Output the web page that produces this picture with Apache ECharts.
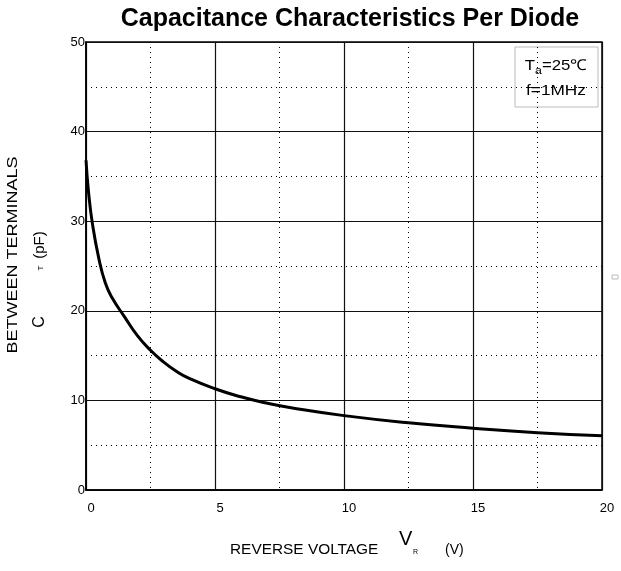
<!DOCTYPE html>
<html>
<head>
<meta charset="utf-8">
<script src="https://cdn.jsdelivr.net/npm/echarts@6/dist/echarts.min.js"></script>
<style>
html,body{margin:0;padding:0;background:#fff;}
#c{width:621px;height:571px;}
</style>
</head>
<body>
<div id="c"></div>
<script>
// Reverse voltage V_R (V)
var voltage = [0, 0.1, 0.25, 0.5, 0.75, 1.0, 1.5, 2.0, 2.5, 3.0, 3.5, 4.0, 5, 6, 7, 8, 10, 12.5, 15, 17.5, 20];
// Capacitance C_T (pF)
var capacitance = [36.8, 33.2, 29.7, 25.8, 23.1, 21.5, 19.3, 17.2, 15.6, 14.3, 13.25, 12.45, 11.3, 10.4, 9.7, 9.15, 8.3, 7.5, 6.9, 6.4, 6.05];
var xTicks = [0, 5, 10, 15, 20];
var yTicks = [0, 10, 20, 30, 40, 50];

var pts = voltage.map(function (v, i) { return [v, capacitance[i]]; });
var chart = echarts.init(document.getElementById('c'));
var font = '"Liberation Sans", Arial, sans-serif';
chart.setOption({
  animation: false,
  backgroundColor: '#fff',
  grid: { left: 86, top: 42, right: 19, bottom: 81, show: true, borderColor: '#000', borderWidth: 1.5 },
  xAxis: {
    type: 'value', min: xTicks[0], max: xTicks[xTicks.length - 1], interval: 5,
    axisLine: { show: true, lineStyle: { color: '#000', width: 1.5 } },
    axisTick: { show: false },
    axisLabel: { color: '#000', fontSize: 13, fontFamily: font, margin: 12, padding: [0, 0, 0, 10] },
    splitLine: { show: true, lineStyle: { color: '#111', width: 1.2 } },
    minorTick: { show: false, splitNumber: 2 },
    minorSplitLine: { show: true, lineStyle: { color: '#000', width: 1, type: [1, 4] } }
  },
  yAxis: {
    type: 'value', min: yTicks[0], max: yTicks[yTicks.length - 1], interval: 10,
    axisLine: { show: true, lineStyle: { color: '#000', width: 1.5 } },
    axisTick: { show: false },
    axisLabel: { color: '#000', fontSize: 13, fontFamily: font, margin: 1 },
    splitLine: { show: true, lineStyle: { color: '#111', width: 1.2 } },
    minorTick: { show: false, splitNumber: 2 },
    minorSplitLine: { show: true, lineStyle: { color: '#000', width: 1, type: [1, 4] } }
  },
  series: [{
    type: 'line', data: pts, smooth: 0.5, showSymbol: false,
    lineStyle: { color: '#000', width: 3 }
  }],
  graphic: [
    { type: 'text', x: 350, y: 7, style: { text: 'Capacitance Characteristics Per Diode', font: 'bold 25px ' + font, fill: '#000', textAlign: 'center' } },
    { type: 'rect', shape: { x: 515, y: 47, width: 83, height: 60 }, style: { fill: '#fff', stroke: '#bbb', lineWidth: 1 } },
    { type: 'text', x: 556, y: 56, scaleX: 1.12, style: { text: '{n|T}{s|a}{n|=25℃}', textAlign: 'center', rich: { n: { fontSize: 15, fontFamily: font, fill: '#000' }, s: { fontSize: 11, fontFamily: font, fill: '#000', padding: [9, 0, 0, 0] } } } },
    { type: 'text', x: 556, y: 83, scaleX: 1.15, style: { text: 'f=1MHz', textAlign: 'center', font: '15px ' + font, fill: '#000' } },
    { type: 'text', x: 13, y: 255, rotation: Math.PI / 2, scaleX: 1.2, style: { text: 'BETWEEN TERMINALS', font: '15px ' + font, fill: '#000', textAlign: 'center', textVerticalAlign: 'middle' } },
    { type: 'text', x: 40, y: 322, rotation: Math.PI / 2, style: { text: 'C', font: '16px ' + font, fill: '#000', textAlign: 'center', textVerticalAlign: 'middle' } },
    { type: 'text', x: 41, y: 268, rotation: Math.PI / 2, style: { text: 'T', font: '8px ' + font, fill: '#000', textAlign: 'center', textVerticalAlign: 'middle' } },
    { type: 'text', x: 40, y: 245, rotation: Math.PI / 2, style: { text: '(pF)', font: '15px ' + font, fill: '#000', textAlign: 'center', textVerticalAlign: 'middle' } },
    { type: 'text', x: 230, y: 543, scaleX: 1.1, style: { text: 'REVERSE VOLTAGE', font: '14px ' + font, fill: '#000' } },
    { type: 'text', x: 399, y: 529, style: { text: 'V', font: '20px ' + font, fill: '#000' } },
    { type: 'text', x: 413, y: 549, style: { text: 'R', font: '7px ' + font, fill: '#000' } },
    { type: 'text', x: 445, y: 543, style: { text: '(V)', font: '14px ' + font, fill: '#000' } },
    { type: 'rect', shape: { x: 612, y: 275, width: 6, height: 4 }, style: { fill: '#fff', stroke: '#bbb', lineWidth: 1 } }
  ]
});
</script>
</body>
</html>
